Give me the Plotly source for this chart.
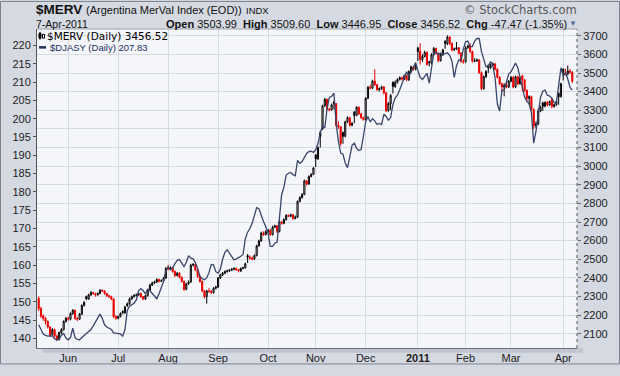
import plotly.graph_objects as go
import pandas as pd

# ---------------- data ----------------
trade_dates = pd.bdate_range("2010-05-13", "2011-04-07")

merv_open = [
    2290, 2235, 2195, 2183, 2166, 2136, 2096, 2122, 2088, 2070,
    2105, 2122, 2166, 2183, 2178, 2209, 2226, 2183, 2178, 2205,
    2252, 2300, 2287, 2309, 2321, 2316, 2309, 2316, 2333, 2330,
    2316, 2304, 2299, 2287, 2192, 2183, 2192, 2220, 2212, 2250,
    2261, 2287, 2299, 2306, 2309, 2316, 2299, 2287, 2304, 2333,
    2361, 2373, 2378, 2391, 2382, 2385, 2399, 2451, 2448, 2455,
    2434, 2413, 2425, 2403, 2382, 2339, 2368, 2378, 2468, 2472,
    2442, 2408, 2382, 2330, 2299, 2330, 2327, 2321, 2344, 2351,
    2399, 2416, 2425, 2434, 2437, 2442, 2447, 2451, 2444, 2437,
    2451, 2454, 2520, 2511, 2506, 2502, 2520, 2572, 2598, 2641,
    2632, 2649, 2655, 2632, 2672, 2679, 2649, 2701, 2693, 2713,
    2736, 2731, 2739, 2719, 2727, 2810, 2831, 2848, 2921, 2904,
    2944, 2956, 3060, 3039, 3180, 3200, 3324, 3359, 3307, 3302,
    3345, 3336, 3220, 3212, 3180, 3160, 3238, 3260, 3220, 3290,
    3272, 3316, 3281, 3260, 3250, 3364, 3423, 3419, 3457, 3437,
    3411, 3416, 3425, 3393, 3298, 3336, 3450, 3428, 3450, 3465,
    3475, 3468, 3485, 3463, 3508, 3532, 3520, 3635, 3615, 3572,
    3589, 3611, 3560, 3554, 3598, 3632, 3606, 3566, 3598, 3670,
    3658, 3693, 3658, 3624, 3629, 3636, 3606, 3563, 3560, 3636,
    3646, 3615, 3563, 3566, 3570, 3502, 3416, 3480, 3540, 3528,
    3542, 3549, 3520, 3477, 3442, 3425, 3433, 3425, 3456, 3477,
    3425, 3480, 3442, 3485, 3463, 3407, 3364, 3373, 3304, 3217,
    3226, 3295, 3340, 3321, 3342, 3329, 3360, 3321, 3329, 3390,
    3373, 3520, 3502, 3494, 3511, 3503.99,
]
merv_high = [
    2300, 2245, 2205, 2190, 2172, 2140, 2130, 2128, 2095, 2112,
    2130, 2172, 2190, 2192, 2215, 2232, 2230, 2190, 2212, 2258,
    2275, 2305, 2315, 2330, 2326, 2320, 2322, 2340, 2338, 2334,
    2320, 2310, 2304, 2290, 2200, 2198, 2215, 2226, 2250, 2268,
    2294, 2305, 2312, 2316, 2322, 2320, 2303, 2310, 2340, 2368,
    2380, 2385, 2398, 2396, 2392, 2405, 2458, 2470, 2462, 2460,
    2440, 2432, 2430, 2408, 2385, 2374, 2386, 2476, 2480, 2478,
    2446, 2412, 2386, 2336, 2336, 2345, 2335, 2350, 2358, 2405,
    2422, 2432, 2440, 2444, 2448, 2452, 2456, 2456, 2448, 2456,
    2460, 2482, 2528, 2520, 2515, 2526, 2578, 2605, 2648, 2650,
    2656, 2662, 2664, 2680, 2686, 2684, 2708, 2706, 2720, 2742,
    2740, 2745, 2742, 2735, 2816, 2838, 2855, 2928, 2926, 2950,
    2962, 2996, 3065, 3106, 3190, 3330, 3366, 3362, 3312, 3336,
    3350, 3338, 3240, 3215, 3185, 3244, 3268, 3264, 3236, 3296,
    3322, 3320, 3286, 3266, 3370, 3430, 3438, 3464, 3520, 3442,
    3422, 3432, 3430, 3398, 3344, 3386, 3455, 3460, 3472, 3482,
    3480, 3492, 3490, 3514, 3540, 3536, 3545, 3640, 3660, 3600,
    3620, 3615, 3566, 3606, 3640, 3636, 3610, 3604, 3630, 3676,
    3702, 3698, 3665, 3636, 3666, 3640, 3612, 3575, 3644, 3652,
    3660, 3620, 3580, 3578, 3574, 3508, 3486, 3515, 3546, 3550,
    3556, 3553, 3525, 3482, 3448, 3445, 3455, 3462, 3484, 3482,
    3486, 3486, 3480, 3490, 3468, 3412, 3380, 3378, 3310, 3240,
    3310, 3324, 3346, 3348, 3350, 3352, 3366, 3336, 3356, 3396,
    3448, 3526, 3522, 3540, 3522, 3509.60,
]
merv_low = [
    2222, 2185, 2170, 2150, 2128, 2085, 2090, 2080, 2062, 2064,
    2098, 2118, 2160, 2170, 2172, 2202, 2175, 2168, 2174, 2200,
    2246, 2280, 2282, 2304, 2310, 2300, 2304, 2312, 2324, 2310,
    2298, 2292, 2280, 2185, 2175, 2178, 2188, 2205, 2208, 2244,
    2256, 2282, 2294, 2300, 2304, 2293, 2280, 2282, 2300, 2330,
    2356, 2368, 2372, 2376, 2378, 2380, 2395, 2440, 2442, 2428,
    2405, 2408, 2396, 2374, 2330, 2334, 2362, 2374, 2462, 2436,
    2400, 2374, 2322, 2290, 2262, 2320, 2314, 2316, 2338, 2346,
    2394, 2410, 2420, 2428, 2432, 2436, 2440, 2438, 2430, 2432,
    2446, 2450, 2480, 2498, 2494, 2496, 2515, 2568, 2594, 2626,
    2628, 2640, 2625, 2628, 2668, 2640, 2644, 2686, 2688, 2708,
    2726, 2726, 2712, 2714, 2722, 2806, 2826, 2844, 2896, 2900,
    2940, 2952, 2995, 3034, 3100, 3195, 3318, 3300, 3294, 3298,
    3305, 3210, 3200, 3110, 3120, 3155, 3232, 3212, 3214, 3230,
    3268, 3275, 3254, 3244, 3246, 3360, 3412, 3414, 3430, 3404,
    3400, 3410, 3386, 3290, 3292, 3300, 3390, 3420, 3444, 3460,
    3460, 3462, 3456, 3458, 3502, 3512, 3514, 3565, 3545, 3560,
    3584, 3540, 3536, 3546, 3594, 3600, 3558, 3562, 3592, 3630,
    3650, 3650, 3616, 3618, 3624, 3600, 3555, 3550, 3556, 3630,
    3608, 3556, 3558, 3560, 3495, 3408, 3410, 3474, 3500, 3522,
    3536, 3514, 3470, 3436, 3398, 3375, 3418, 3420, 3450, 3418,
    3420, 3436, 3438, 3400, 3398, 3345, 3330, 3298, 3200, 3205,
    3220, 3290, 3296, 3316, 3322, 3324, 3310, 3314, 3324, 3330,
    3368, 3460, 3486, 3488, 3496, 3446.95,
]
merv_close = [
    2235, 2195, 2183, 2166, 2136, 2096, 2122, 2088, 2070, 2105,
    2122, 2166, 2183, 2178, 2209, 2226, 2183, 2178, 2205, 2252,
    2269, 2287, 2309, 2321, 2316, 2309, 2316, 2333, 2330, 2316,
    2304, 2299, 2287, 2192, 2183, 2192, 2209, 2212, 2243, 2261,
    2287, 2299, 2306, 2309, 2316, 2299, 2287, 2304, 2333, 2361,
    2373, 2378, 2391, 2382, 2385, 2399, 2451, 2448, 2455, 2434,
    2413, 2425, 2403, 2382, 2339, 2368, 2378, 2468, 2472, 2442,
    2408, 2382, 2330, 2299, 2330, 2327, 2321, 2344, 2351, 2399,
    2416, 2425, 2434, 2437, 2442, 2447, 2451, 2444, 2437, 2451,
    2454, 2476, 2511, 2506, 2502, 2520, 2572, 2598, 2641, 2632,
    2649, 2655, 2632, 2672, 2679, 2649, 2701, 2693, 2713, 2736,
    2731, 2739, 2719, 2727, 2810, 2831, 2848, 2921, 2904, 2944,
    2956, 2990, 3039, 3099, 3160, 3324, 3359, 3307, 3302, 3329,
    3336, 3220, 3212, 3122, 3160, 3238, 3260, 3220, 3229, 3272,
    3316, 3281, 3260, 3250, 3364, 3423, 3419, 3457, 3437, 3411,
    3416, 3425, 3393, 3298, 3336, 3380, 3428, 3450, 3465, 3475,
    3468, 3485, 3463, 3508, 3532, 3520, 3537, 3615, 3572, 3589,
    3611, 3546, 3554, 3598, 3632, 3606, 3566, 3598, 3624, 3658,
    3693, 3658, 3624, 3629, 3636, 3606, 3563, 3560, 3636, 3646,
    3615, 3563, 3566, 3570, 3502, 3416, 3480, 3508, 3528, 3542,
    3549, 3520, 3477, 3442, 3425, 3433, 3425, 3456, 3477, 3425,
    3480, 3442, 3473, 3463, 3407, 3364, 3373, 3304, 3217, 3226,
    3295, 3317, 3321, 3342, 3329, 3347, 3321, 3329, 3347, 3373,
    3442, 3502, 3494, 3511, 3503.99, 3456.52,
]
djasy_close = [
    143.7, 142.2, 141.2, 140.8, 140.6, 140.7, 140.6, 139.9, 139.5, 139.9,
    140.8, 141.3, 140.1, 139.6, 140.2, 142.8, 140.2, 139.7, 139.6, 140.2,
    140.7, 141.3, 141.8, 142.4, 143.4, 144.6, 145.7, 146.6, 145.4, 143.7,
    143.1, 142.7, 142.4, 141.5, 141.4, 141.4, 141.2, 140.6, 142.4, 147.6,
    148.8, 149.2, 149.6, 150.5, 153.0, 153.6, 153.1, 152.1, 153.4, 153.0,
    152.2, 151.4, 150.8, 152.2, 153.8, 155.6, 158.4, 159.5, 158.7, 159.3,
    160.4, 161.3, 161.5, 160.7, 159.6, 160.7, 162.6, 161.9, 161.7, 160.7,
    159.1, 156.9, 156.3, 156.0, 156.5, 158.0, 160.2, 160.1, 158.2, 157.8,
    158.9, 161.6, 163.5, 164.2, 163.3, 162.6, 161.4, 161.7, 162.0, 162.4,
    162.9, 167.2, 169.0, 170.0, 171.4, 173.9, 175.7, 175.4, 173.4, 171.9,
    170.5, 168.8, 165.1, 165.1, 166.0, 166.3, 172.7, 179.3, 181.3, 184.6,
    185.1, 185.3, 184.7, 184.4, 188.6, 187.8, 188.3, 189.5, 190.5, 191.0,
    191.1, 190.8, 191.5, 193.2, 196.1, 198.0, 197.5, 202.7, 205.8, 206.1,
    207.0, 198.7, 193.8, 190.6, 190.3, 187.9, 186.6, 189.5, 192.7, 193.3,
    191.9, 191.3, 191.6, 195.2, 199.1, 200.6, 199.1, 200.0, 199.4, 198.4,
    198.7, 198.4, 201.2, 200.6, 199.6, 200.3, 203.8, 205.7, 206.4, 207.9,
    209.6, 211.3, 212.8, 211.5, 212.9, 214.3, 215.3, 213.1, 211.3, 210.7,
    211.6, 212.4, 209.7, 214.0, 218.0, 218.2, 217.5, 217.9, 217.5, 217.8,
    218.0, 217.3, 215.7, 211.3, 214.4, 216.0, 215.9, 219.0, 221.0, 221.2,
    219.7, 219.7, 221.2, 221.9, 221.9, 218.3, 216.0, 214.2, 214.3, 215.6,
    214.6, 211.1, 204.0, 202.1, 207.8, 207.8, 210.0, 212.2, 212.8, 214.1,
    215.2, 213.9, 211.0, 208.4, 205.9, 204.7, 204.1, 201.6, 193.3, 196.5,
    201.6, 205.8, 207.5, 207.8, 206.4, 206.2, 205.6, 204.4, 204.3, 209.1,
    213.9, 211.7, 212.4, 210.9, 208.5, 207.83,
]

month_labels = ["Jun", "Jul", "Aug", "Sep", "Oct", "Nov", "Dec", "<b>2011</b>", "Feb", "Mar", "Apr"]
left_ticks = [140, 145, 150, 155, 160, 165, 170, 175, 180, 185, 190, 195, 200, 205, 210, 215, 220]
right_ticks = [2100, 2200, 2300, 2400, 2500, 2600, 2700, 2800, 2900, 3000,
               3100, 3200, 3300, 3400, 3500, 3600, 3700]

# ---------------- styling ----------------
W, H = 620, 376
L, R, T, B = 37, 577, 29, 359
PAPER = "#d5d9e2"
PLOT_BG = "#f5f6fa"
GRID = "#d8dbe4"
RED = "#e80000"
BLACK = "#000000"
FONT = "Liberation Sans, Arial, sans-serif"

n = len(merv_close)
xs = list(range(n))
tick_pos = [k for k in range(1, n) if trade_dates[k].month != trade_dates[k - 1].month]

prev_close = [merv_open[0]] + merv_close[:-1]
up_idx = [k for k in xs if merv_close[k] >= prev_close[k]]
dn_idx = [k for k in xs if merv_close[k] < prev_close[k]]


def candle_trace(idx, color):
    return go.Candlestick(
        x=idx,
        open=[merv_open[k] for k in idx],
        high=[merv_high[k] for k in idx],
        low=[merv_low[k] for k in idx],
        close=[merv_close[k] for k in idx],
        increasing=dict(line=dict(color=color, width=1), fillcolor="#ffffff"),
        decreasing=dict(line=dict(color=color, width=1), fillcolor=color),
        whiskerwidth=0,
        xaxis="x", yaxis="y",
        showlegend=False, hoverinfo="skip",
    )


fig = go.Figure()
fig.add_trace(candle_trace(up_idx, BLACK))
fig.add_trace(candle_trace(dn_idx, RED))
fig.add_trace(go.Scatter(
    x=xs, y=djasy_close, mode="lines",
    line=dict(color="#39466a", width=1.3),
    xaxis="x", yaxis="y2", showlegend=False, hoverinfo="skip",
))


def px(x):
    return (x - L) / (R - L)


def py(y):
    return (B - y) / (B - T)


# day-index scale: 2.2706 px per trading day, first bar at 38.7 px
x0 = -(38.7 - L) / 2.2706
x1 = x0 + (R - L) / 2.2706

fig.update_layout(
    width=W, height=H,
    margin=dict(l=L, r=W - R, t=T, b=H - B, pad=0),
    paper_bgcolor=PAPER, plot_bgcolor=PLOT_BG,
    font=dict(family=FONT, size=11, color="#222222"),
    showlegend=False,
    xaxis=dict(
        range=[x0, x1], tickmode="array", tickvals=tick_pos, ticktext=month_labels,
        showgrid=True, gridcolor=GRID, gridwidth=1, zeroline=False,
        showline=True, linecolor="#6e7380", linewidth=1, ticks="",
        tickfont=dict(size=11, color="#222222"),
        rangeslider=dict(visible=False), fixedrange=True,
    ),
    yaxis=dict(
        side="right", range=[2023.6, 3736.3], tickmode="array", tickvals=right_ticks,
        showgrid=True, gridcolor=GRID, gridwidth=1, zeroline=False,
        ticks="outside", ticklen=3, tickcolor="#666666", showline=False,
        tickfont=dict(size=11, color="#222222"), fixedrange=True,
    ),
    yaxis2=dict(
        overlaying="y", side="left", range=[137.36, 224.49], tickmode="array",
        tickvals=left_ticks, showgrid=False, zeroline=False,
        ticks="outside", ticklen=3, tickcolor="#555555",
        showline=True, linecolor="#555555", linewidth=1,
        tickfont=dict(size=11, color="#222222"), fixedrange=True,
    ),
)

shapes = [
    # shadow under plot area
    dict(type="rect", xref="paper", yref="paper", x0=px(43), x1=px(583), y0=py(364), y1=py(359),
         fillcolor="#bfc4cf", line=dict(width=0), layer="below"),
    # top border of plot
    dict(type="line", xref="paper", yref="paper", x0=0, x1=1, y0=1, y1=1,
         line=dict(color="#9aa0ab", width=1), layer="above"),
    # dotted right axis line
    dict(type="line", xref="paper", yref="paper", x0=1, x1=1, y0=0, y1=1,
         line=dict(color="#555555", width=1, dash="dot"), layer="above"),
    # outer border of the whole image
    dict(type="rect", xref="paper", yref="paper", x0=px(0.5), x1=px(619.5), y0=py(375.5), y1=py(0.5),
         line=dict(color="#7d828d", width=1), fillcolor="rgba(0,0,0,0)", layer="above"),
    # legend icons
    dict(type="line", xref="paper", yref="paper", x0=px(40), x1=px(40), y0=py(40), y1=py(32),
         line=dict(color=BLACK, width=1), layer="above"),
    dict(type="rect", xref="paper", yref="paper", x0=px(39), x1=px(41), y0=py(38.5), y1=py(33.5),
         fillcolor=BLACK, line=dict(color=BLACK, width=1), layer="above"),
    dict(type="rect", xref="paper", yref="paper", x0=px(42.5), x1=px(44.5), y0=py(38.5), y1=py(34.5),
         fillcolor="#ffffff", line=dict(color=BLACK, width=1), layer="above"),
    dict(type="line", xref="paper", yref="paper", x0=px(39), x1=px(46), y0=py(48), y1=py(48),
         line=dict(color="#22305e", width=2.5), layer="above"),
]
fig.update_layout(shapes=shapes)

chg = merv_close[-1] - merv_close[-2]
pct = chg / merv_close[-2] * 100
sp = "\u00a0"
ohlc_text = (
    f"<b>Open</b> {merv_open[-1]:.2f}{sp}{sp}<b>High</b> {merv_high[-1]:.2f}{sp}{sp}"
    f"<b>Low</b> {merv_low[-1]:.2f}{sp}{sp}<b>Close</b> {merv_close[-1]:.2f}{sp}{sp}"
    f"<b>Chg</b> {chg:.2f} ({pct:.2f}%)"
)


def ann(text, x, y, size, xanchor="left", color="#111111", family=FONT):
    return dict(text=text, x=px(x), y=py(y), xref="paper", yref="paper",
                xanchor=xanchor, yanchor="middle", showarrow=False,
                font=dict(size=size, color=color, family=family), borderpad=0)


annotations = [
    ann("<b>$MERV</b>", 35, 9, 13.5),
    ann("(Argentina MerVal Index (EOD))", 85, 9.5, 11),
    ann("INDX", 245, 10, 9.5),
    ann("7-Apr-2011", 35, 23.5, 10.5),
    ann(ohlc_text, 568, 23.5, 11, xanchor="right"),
    ann("\u25bc", 578, 23, 8, xanchor="right", color="#4f6e9e"),
    ann("\u00a9 StockCharts.com", 578, 9.5, 11.5, xanchor="right", color="#5a5a5a",
        family="DejaVu Sans, Verdana, sans-serif"),
    ann(f"$MERV (Daily) {merv_close[-1]:.2f}", 46, 36.5, 10.5, color="#000000",
        family="DejaVu Sans, Verdana, sans-serif"),
    ann(f"$DJASY (Daily) {djasy_close[-1]:.2f}", 49, 48.5, 9.5, color="#22305e"),
]
fig.update_layout(annotations=annotations)

fig.write_html("out.html", config={"displayModeBar": False},
               post_script="document.body.style.margin='0';")
